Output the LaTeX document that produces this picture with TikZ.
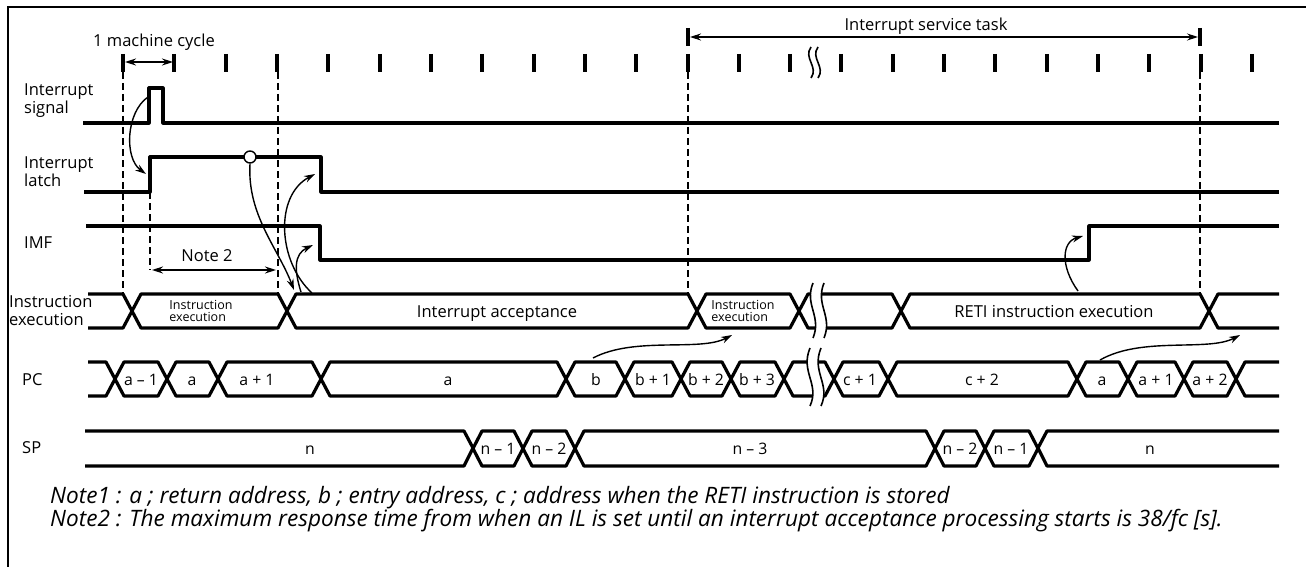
\documentclass[tikz,border=0pt]{standalone}
\usepackage{fontspec}
\setmainfont{Open Sans}
\usetikzlibrary{arrows.meta,calc}

% one bus cell between two crossings: #1,#2 crossing centres, #3 top, #4 bottom
\newcommand{\hexseg}[4]{%
  \draw[wave] (#1,{(#3+#4)/2}) -- (#1+9,#3) -- (#2-9,#3) -- (#2,{(#3+#4)/2})
    -- (#2-9,#4) -- (#1+9,#4) -- cycle;}

\tikzset{
  wave/.style={line width=3.2pt, line join=round},
  guide/.style={line width=1.8pt, dash pattern=on 7pt off 4pt},
  clockbar/.style={line width=4pt},
  cause/.style={line width=1.4pt, -{Stealth[length=11pt,width=7pt]}},
  dimarrow/.style={line width=1.4pt, {Stealth[length=11pt,width=7pt]}-{Stealth[length=11pt,width=7pt]}},
  breakline/.style={line width=1.6pt},
  txt/.style={inner sep=0pt, font=\fontsize{16.5}{18}\selectfont},
  signame/.style={txt, anchor=west, align=left},
  busval/.style={txt, anchor=base},
  cellval/.style={inner sep=0pt, anchor=base, font=\fontsize{15.8}{18}\selectfont},
  tinytxt/.style={inner sep=0pt, align=left, font=\fontsize{12.5}{12}\selectfont},
  note/.style={inner sep=0pt, anchor=west, font=\fontsize{22.6}{25}\selectfont\itshape},
}

\begin{document}
\begin{tikzpicture}[x=1pt,y=-1pt]
  \useasboundingbox (0,0) rectangle (1306,567);
  \draw[line width=2pt] (8,567) -- (8,7) -- (1306,7);

  % clock
  \foreach \k in {0,...,22}
    \draw[clockbar] ({123+\k*51.32},54) -- ({123+\k*51.32},72);
  \draw[clockbar] (688,28) -- (688,46);
  \draw[clockbar] (1200,28) -- (1200,46);
  \draw[breakline] (811,47) .. controls (803,58) and (819,67) .. (811,78);
  \draw[breakline] (818,47) .. controls (810,58) and (826,67) .. (818,78);

  \coordinate (mc0) at (125,62);
  \coordinate (mc1) at (173,62);
  \draw[dimarrow] (mc0) -- (mc1);
  \node[txt] (mctext) at (154,42) {1 machine cycle};

  \coordinate (ist0) at (690,37);
  \coordinate (ist1) at (1198,37);
  \draw[dimarrow, line width=1.1pt] (ist0) -- (ist1);
  \node[txt] (isttext) at (926,26) {Interrupt service task};

  % guides
  \foreach \x in {123,278,688,1200}
    \draw[guide] (\x,72) -- (\x,293);
  \draw[guide] (150,192) -- (150,270);

  % signal names
  \node[signame] (lsig) at (24,101) {Interrupt\\signal};
  \node[signame] (llatch) at (24,172) {Interrupt\\latch};
  \node[signame] (limf) at (24,243) {IMF};
  \node[signame] (lexec) at (9,311) {Instruction\\execution};
  \node[signame] (lpc) at (22,380) {PC};
  \node[signame] (lsp) at (22,448) {SP};

  % single lines
  \draw[wave] (83,123) -- (149,123) -- (149,88) -- (163,88) -- (163,123) -- (1279,123);
  \draw[wave] (84,192) -- (150,192) -- (150,157) -- (321,157) -- (321,192) -- (1279,192);
  \draw[wave] (86,226) -- (320,226) -- (320,260) -- (1089,260) -- (1089,226) -- (1279,226);
  \node[circle, draw, fill=white, line width=1.4pt, minimum size=12pt, inner sep=0pt] (ilcheck) at (250,157) {};

  % Note 2
  \coordinate (n2a) at (152,270);
  \coordinate (n2b) at (276,270);
  \draw[dimarrow] (n2a) -- (n2b);
  \node[txt] (n2text) at (207,256) {Note 2};

  % instruction execution
  \draw[wave] (88,294) -- (123,294) -- (132,311) -- (123,328) -- (88,328);
  \foreach \a/\b in {132/287, 287/697, 697/799, 799/901, 901/1209}
    \hexseg{\a}{\b}{294}{328};
  \draw[wave] (1279,294) -- (1218,294) -- (1209,311) -- (1218,328) -- (1279,328);
  \fill[white] (813,283) .. controls (804,305) and (822,316) .. (813,338)
    -- (824,338) .. controls (833,316) and (815,305) .. (824,283) -- cycle;
  \draw[breakline] (813,283) .. controls (804,305) and (822,316) .. (813,338);
  \draw[breakline] (824,283) .. controls (815,305) and (833,316) .. (824,338);
  \node[tinytxt] (ex1) at (201,311) {Instruction\\execution};
  \node[busval] (ex2) at (497,317) {Interrupt acceptance};
  \node[tinytxt] (ex3) at (743,311) {Instruction\\execution};
  \node[busval] (ex4) at (1054,317) {RETI instruction execution};

  % PC
  \draw[wave] (88,362) -- (106,362) -- (115,379) -- (106,396) -- (88,396);
  \foreach \a/\b in {115/167, 167/218, 218/321, 321/566, 566/625, 625/681, 681/731,
      731/784, 784/834, 834/888, 888/1077, 1077/1128, 1128/1184, 1184/1236}
    \hexseg{\a}{\b}{362}{396};
  \draw[wave] (1279,362) -- (1245,362) -- (1236,379) -- (1245,396) -- (1279,396);
  \fill[white] (810,348) .. controls (800,372) and (820,384) .. (810,406)
    -- (821,406) .. controls (831,384) and (811,372) .. (821,348) -- cycle;
  \draw[breakline] (810,348) .. controls (800,372) and (820,384) .. (810,406);
  \draw[breakline] (821,348) .. controls (811,372) and (831,384) .. (821,406);
  \foreach \x/\t [count=\i] in {141/a – 1, 192/a, 257/a + 1, 448/a, 596/b, 653/b + 1,
      706/b + 2, 757/b + 3, 860/c + 1, 982/c + 2, 1102/a, 1156/a + 1, 1210/a + 2}
    \node[cellval] (pc\i) at (\x,385) {\t};

  % SP
  \draw[wave] (85,431) -- (464,431) -- (473,448) -- (464,466) -- (85,466);
  \foreach \a/\b in {473/523, 523/575, 575/935, 935/985, 985/1038}
    \hexseg{\a}{\b}{431}{466};
  \draw[wave] (1279,431) -- (1047,431) -- (1038,448) -- (1047,466) -- (1279,466);
  \foreach \x/\t [count=\i] in {310/n, 498/n – 1, 549/n – 2, 750/n – 3, 960/n – 2,
      1011/n – 1, 1150/n}
    \node[cellval] (sp\i) at (\x,454) {\t};

  % causes
  \coordinate (sigedge) at (148,97);
  \coordinate (ilrise) at (146,174);
  \draw[cause] (sigedge) .. controls (126,112) and (124,158) .. (ilrise);
  \coordinate (acceptin) at (294,290);
  \draw[cause] (ilcheck.south) .. controls (247,215) and (278,248) .. (acceptin);
  \coordinate (acceptstart) at (312,293);
  \coordinate (ilfall) at (315,174);
  \draw[cause] (acceptstart) .. controls (278,262) and (274,196) .. (ilfall);
  \coordinate (acceptmid) at (301,292);
  \coordinate (imffall) at (313,245);
  \draw[cause] (acceptmid) .. controls (294,270) and (294,254) .. (imffall);
  \coordinate (pcb) at (593,358);
  \coordinate (isrexec) at (732,335);
  \draw[cause] (pcb) .. controls (635,336) and (700,352) .. (isrexec);
  \coordinate (retistart) at (1078,291);
  \coordinate (imfrise) at (1083,236);
  \draw[cause] (retistart) .. controls (1060,266) and (1062,242) .. (imfrise);
  \coordinate (pcret) at (1100,360);
  \coordinate (afterreti) at (1240,335);
  \draw[cause] (pcret) .. controls (1142,336) and (1208,352) .. (afterreti);

  % notes
  \node[note] (note1) at (50,498) {Note1 : a ; return address, b ; entry address, c ; address when the RETI instruction is stored};
  \node[note] (note2) at (50,521) {Note2 : The maximum response time from when an IL is set until an interrupt acceptance processing starts is 38/fc [s].};
\end{tikzpicture}
\end{document}
